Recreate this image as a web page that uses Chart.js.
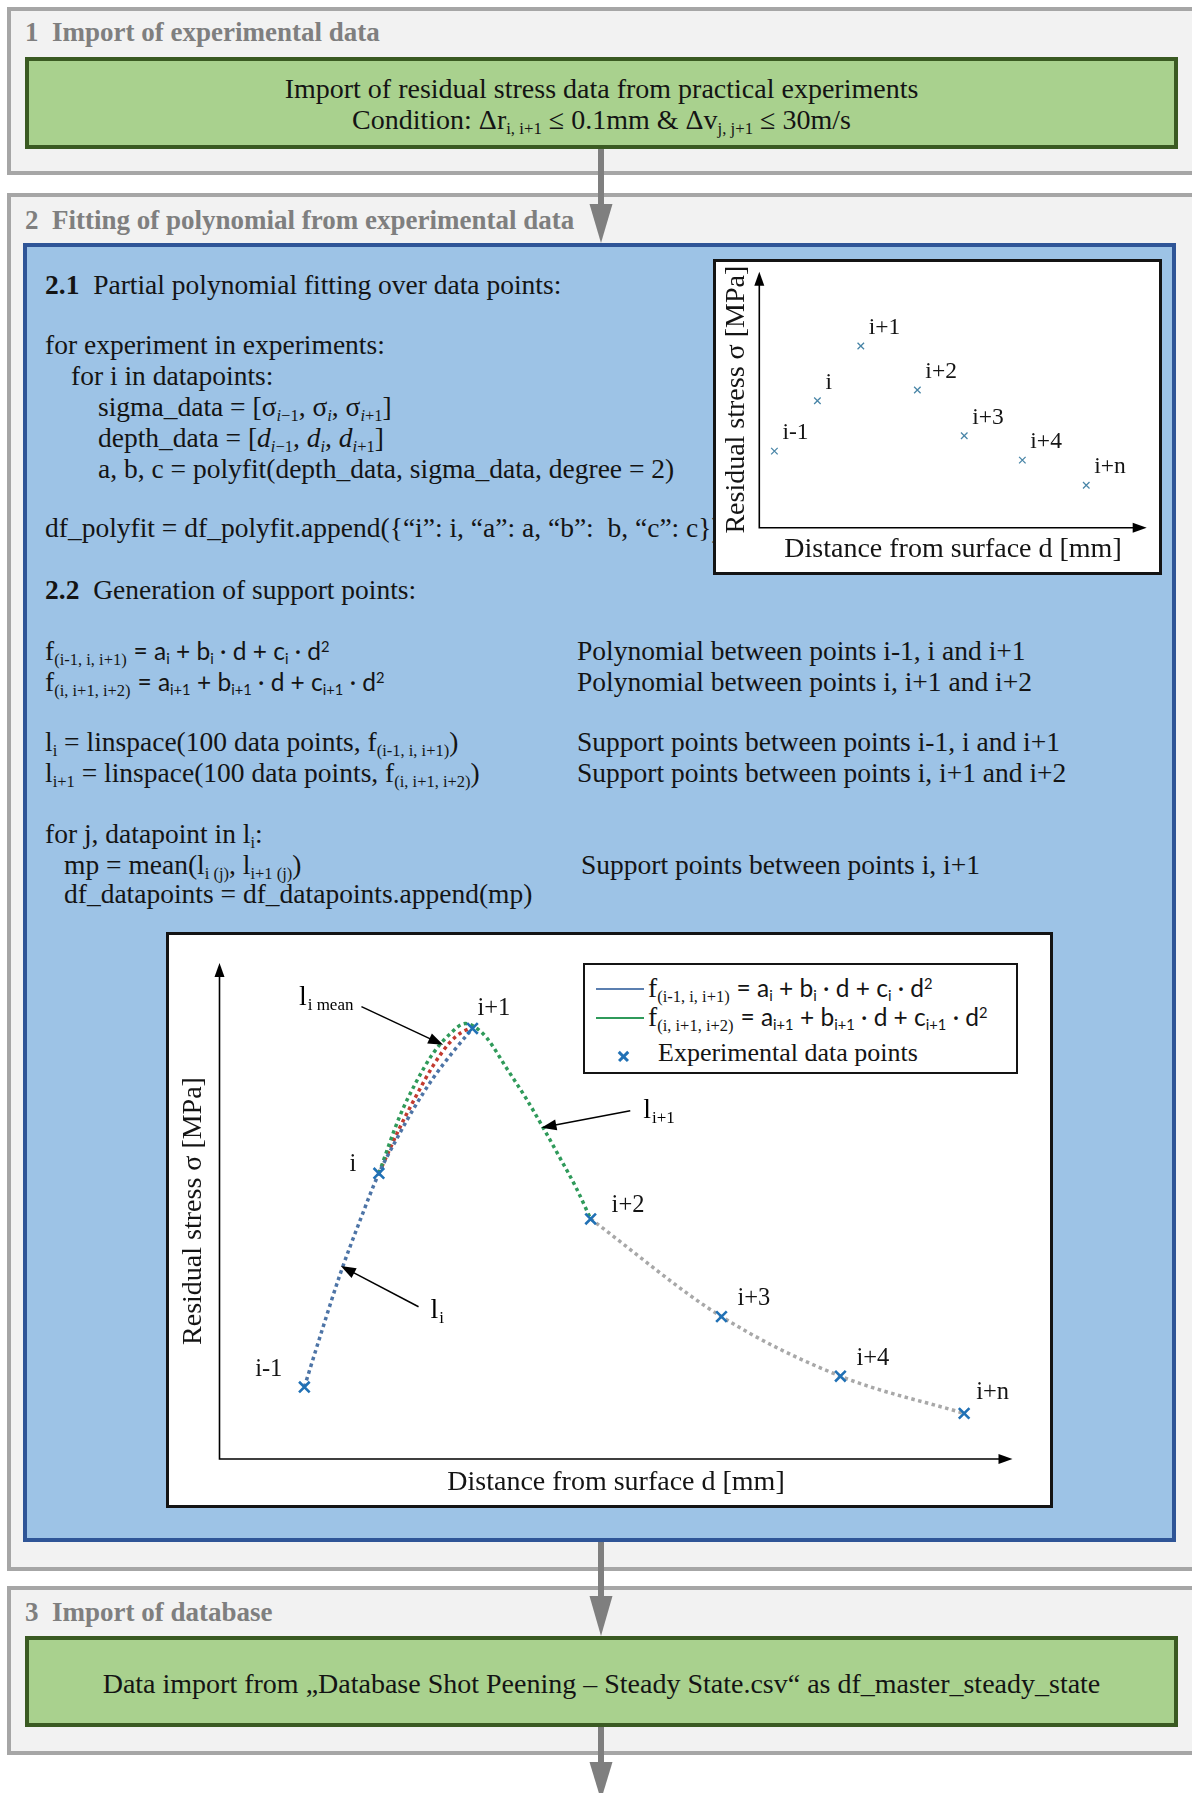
<!DOCTYPE html>
<html lang="en">
<head>
<meta charset="utf-8">
<title>Fitting of polynomial from experimental data</title>
<script src="https://cdn.jsdelivr.net/npm/chart.js@4.4.1/dist/chart.umd.min.js"></script>
<style>
  html, body { margin: 0; padding: 0; background: #fff; }
  body { position: relative; width: 1192px; height: 1793px; overflow: hidden;
         font-family: "Liberation Serif", "Times New Roman", serif; color: #141414; }
  .sec   { position: absolute; left: 7px; width: 1240px; box-sizing: border-box;
           background: #f2f2f2; border: 4px solid #a6a6a6; }
  .head  { position: absolute; left: 25px; font-size: 27px; line-height: 30px;
           font-weight: bold; color: #7f7f7f; white-space: nowrap; }
  .green { position: absolute; left: 25px; width: 1153px; box-sizing: border-box;
           background: #a9d18e; border: 4px solid #3a5a22; }
  .blue  { position: absolute; left: 23px; top: 243px; width: 1153px; height: 1299px;
           box-sizing: border-box; background: #9dc3e6; border: 4px solid #2f5597; }
  .t     { position: absolute; white-space: nowrap; font-size: 27.5px; line-height: 31px; }
  .mid   { left: 25px; width: 1153px; text-align: center; font-size: 28px; }
  sub    { font-size: 60%; line-height: 0; vertical-align: -0.3em; }
  sup    { font-size: 60%; line-height: 0; vertical-align: 0.55em; }
  .sans  { font-family: Lato, "Open Sans", sans-serif; font-size: 24.5px; }
  .frame { position: absolute; box-sizing: border-box; background: #fff; border: 3px solid #141414; }
  .sw    { position: absolute; width: 48px; height: 2.5px; }
  .xm    { position: absolute; width: 13px; height: 2.5px; background: #2171b5; }
  canvas { position: absolute; }
  #arrows { position: absolute; left: 0; top: 0; }
</style>
</head>
<body>

<!-- 1 -->
<div class="sec" style="top:7px;height:168px"></div>
<div class="head" style="top:17px">1&nbsp; Import of experimental data</div>
<div class="green" style="top:57px;height:92px"></div>
<div class="t mid" style="top:72.5px">Import of residual stress data from practical experiments</div>
<div class="t mid" style="top:103.5px">Condition: Δr<sub>i, i+1</sub> ≤ 0.1mm &amp; Δv<sub>j, j+1</sub> ≤ 30m/s</div>

<!-- 2 -->
<div class="sec" style="top:193px;height:1378px"></div>
<div class="head" style="top:205px">2&nbsp; Fitting of polynomial from experimental data</div>
<div class="blue"></div>

<div class="t" style="left:45px;top:268.5px"><b>2.1</b>&nbsp; Partial polynomial fitting over data points:</div>
<div class="t" style="left:45px;top:328.5px">for experiment in experiments:</div>
<div class="t" style="left:71px;top:359.5px">for i in datapoints:</div>
<div class="t" style="left:98px;top:390.5px">sigma_data = [σ<sub><i>i</i>−1</sub>, σ<sub><i>i</i></sub>, σ<sub><i>i</i>+1</sub>]</div>
<div class="t" style="left:98px;top:421.5px">depth_data = [<i>d</i><sub><i>i</i>−1</sub>, <i>d</i><sub><i>i</i></sub>, <i>d</i><sub><i>i</i>+1</sub>]</div>
<div class="t" style="left:98px;top:452.5px">a, b, c = polyfit(depth_data, sigma_data, degree = 2)</div>
<div class="t" style="left:45px;top:511.5px">df_polyfit = df_polyfit.append({“i”: i, “a”: a, “b”:&nbsp; b, “c”: c})</div>

<div class="t" style="left:45px;top:573.5px"><b>2.2</b>&nbsp; Generation of support points:</div>
<div class="t" style="left:45px;top:634.5px">f<sub>(i-1, i, i+1)</sub> <span class="sans">= a<sub>i</sub> + b<sub>i</sub> · d + c<sub>i</sub> · d<sup>2</sup></span></div>
<div class="t" style="left:45px;top:665.5px">f<sub>(i, i+1, i+2)</sub> <span class="sans">= a<sub>i+1</sub> + b<sub>i+1</sub> · d + c<sub>i+1</sub> · d<sup>2</sup></span></div>
<div class="t" style="left:577px;top:634.5px">Polynomial between points i-1, i and i+1</div>
<div class="t" style="left:577px;top:665.5px">Polynomial between points i, i+1 and i+2</div>
<div class="t" style="left:45px;top:725.5px">l<sub>i</sub> = linspace(100 data points, f<sub>(i-1, i, i+1)</sub>)</div>
<div class="t" style="left:45px;top:756.5px">l<sub>i+1</sub> = linspace(100 data points, f<sub>(i, i+1, i+2)</sub>)</div>
<div class="t" style="left:577px;top:725.5px">Support points between points i-1, i and i+1</div>
<div class="t" style="left:577px;top:756.5px">Support points between points i, i+1 and i+2</div>
<div class="t" style="left:45px;top:817.5px">for j, datapoint in l<sub>i</sub>:</div>
<div class="t" style="left:64px;top:848.5px">mp = mean(l<sub>i (j)</sub>, l<sub>i+1 (j)</sub>)</div>
<div class="t" style="left:64px;top:877.5px">df_datapoints = df_datapoints.append(mp)</div>
<div class="t" style="left:581px;top:848.5px">Support points between points i, i+1</div>

<div class="frame" style="left:713px;top:259px;width:449px;height:316px"></div>
<canvas id="rawChart" width="443" height="310" style="left:716px;top:262px"></canvas>

<div class="frame" style="left:166px;top:932px;width:887px;height:576px"></div>
<canvas id="fitChart" width="881" height="570" style="left:169px;top:935px"></canvas>

<div class="frame" style="left:583px;top:963px;width:435px;height:111px;border-width:2px">
  <span class="sw" style="left:11px;top:22.5px;background:#5b7fb0"></span>
  <span class="sw" style="left:11px;top:51.8px;background:#2f9a5a"></span>
  <span class="xm" style="left:31.5px;top:89.5px;transform:rotate(45deg)"></span>
  <span class="xm" style="left:31.5px;top:89.5px;transform:rotate(-45deg)"></span>
  <div class="t" style="left:63px;top:6.5px">f<sub>(i-1, i, i+1)</sub> <span class="sans">= a<sub>i</sub> + b<sub>i</sub> · d + c<sub>i</sub> · d<sup>2</sup></span></div>
  <div class="t" style="left:63px;top:36px">f<sub>(i, i+1, i+2)</sub> <span class="sans">= a<sub>i+1</sub> + b<sub>i+1</sub> · d + c<sub>i+1</sub> · d<sup>2</sup></span></div>
  <div class="t" style="left:73px;top:71.7px;font-size:26px">Experimental data points</div>
</div>

<!-- 3 -->
<div class="sec" style="top:1586px;height:169px"></div>
<div class="head" style="top:1597px">3&nbsp; Import of database</div>
<div class="green" style="top:1636px;height:91px"></div>
<div class="t mid" style="top:1667.5px">Data import from „Database Shot Peening – Steady State.csv“ as df_master_steady_state</div>

<svg id="arrows" width="1192" height="1793">
  <g fill="#7f7f7f">
    <rect x="598" y="149" width="6" height="57"/>
    <polygon points="589.5,204 612.5,204 601,243"/>
    <rect x="598" y="1542" width="6" height="56"/>
    <polygon points="589.5,1596 612.5,1596 601,1636"/>
    <rect x="598" y="1727" width="6" height="37"/>
    <polygon points="589.5,1762 612.5,1762 601,1800"/>
  </g>
</svg>

<script>
// ---- data (arbitrary units, both axes run 0..10 up to the arrow tips) ----
const pointLabels = ['i-1', 'i', 'i+1', 'i+2', 'i+3', 'i+4', 'i+n'];

// 2.1 raw experimental points
const rawDepth  = [0.39, 1.50, 2.62, 4.08, 5.29, 6.79, 8.44];
const rawStress = [2.99, 4.96, 7.10, 5.38, 3.59, 2.64, 1.66];

// 2.2 experimental points
const expDepth  = [1.07, 2.01, 3.19, 4.68, 6.33, 7.83, 9.39];
const expStress = [1.45, 5.76, 8.68, 4.84, 2.87, 1.67, 0.92];

// f(i-1, i, i+1), blue dotted
const fiDepth  = [1.07, 1.30, 1.52, 1.77, 2.01, 2.23, 2.44, 2.69, 2.95, 3.19];
const fiStress = [1.45, 2.63, 3.72, 4.80, 5.76, 6.44, 7.04, 7.67, 8.22, 8.68];

// f(i, i+1, i+2), green dotted
const fi1Depth  = [2.01, 2.27, 2.48, 2.69, 2.90, 3.10, 3.22, 3.37, 3.62, 3.87, 4.06, 4.29, 4.50, 4.68];
const fi1Stress = [5.76, 6.90, 7.60, 8.17, 8.56, 8.78, 8.71, 8.49, 7.88, 7.26, 6.74, 6.08, 5.46, 4.84];

// l_i mean, red dotted
const meanDepth  = [2.01, 2.27, 2.48, 2.69, 2.90, 3.05, 3.19];
const meanStress = [5.76, 6.67, 7.32, 7.92, 8.39, 8.60, 8.70];

// rest of the profile, grey dotted
const tailDepth  = [4.68, 6.33, 7.83, 9.39];
const tailStress = [4.84, 2.87, 1.67, 0.92];

const SERIF = '"Liberation Serif", "Times New Roman", serif';
const xy = (xs, ys) => xs.map((x, k) => ({ x, y: ys[k] }));

function arrowHead(ctx, x, y, dx, dy, len, half) {
  ctx.beginPath();
  ctx.moveTo(x, y);
  ctx.lineTo(x - dx * len - dy * half, y - dy * len + dx * half);
  ctx.lineTo(x - dx * len + dy * half, y - dy * len - dx * half);
  ctx.closePath();
  ctx.fill();
}

// axes with arrow tips + titles
const sketchAxes = {
  id: 'sketchAxes',
  beforeDatasetsDraw(chart, args, o) {
    const { ctx, chartArea: a } = chart;
    ctx.save();
    ctx.strokeStyle = '#000'; ctx.fillStyle = '#000'; ctx.lineWidth = 1.6;
    ctx.beginPath();
    ctx.moveTo(a.left, a.top + 4); ctx.lineTo(a.left, a.bottom); ctx.lineTo(a.right - 4, a.bottom);
    ctx.stroke();
    arrowHead(ctx, a.left, a.top, 0, -1, 14, 5);
    arrowHead(ctx, a.right, a.bottom, 1, 0, 14, 5);
    ctx.fillStyle = '#141414';
    ctx.font = '28px ' + SERIF;
    ctx.textAlign = 'center'; ctx.textBaseline = 'middle';
    ctx.fillText(o.xTitle, (a.left + a.right) / 2, a.bottom + o.xGap);
    ctx.translate(a.left - o.yGap, (a.top + a.bottom) / 2);
    ctx.rotate(-Math.PI / 2);
    ctx.fillText(o.yTitle, 0, 0);
    ctx.restore();
  }
};

// i-1, i, i+1 ... next to the crosses
const pointTags = {
  id: 'pointTags',
  afterDatasetsDraw(chart, args, o) {
    const ctx = chart.ctx;
    const meta = chart.getDatasetMeta(0);
    ctx.save();
    ctx.fillStyle = '#141414';
    ctx.font = o.size + 'px ' + SERIF;
    ctx.textBaseline = 'middle';
    meta.data.forEach((pt, k) => {
      const off = (o.offsets && o.offsets[k]) || o.offset;
      ctx.textAlign = off[2] || 'left';
      ctx.fillText(pointLabels[k], pt.x + off[0], pt.y + off[1]);
    });
    ctx.restore();
  }
};

// l_i, l_i+1, l_i mean arrows
const callouts = {
  id: 'callouts',
  afterDatasetsDraw(chart, args, o) {
    const { ctx, scales: { x, y } } = chart;
    ctx.save();
    ctx.strokeStyle = '#000'; ctx.fillStyle = '#000'; ctx.lineWidth = 1.5;
    o.items.forEach(c => {
      const x0 = x.getPixelForValue(c.from[0]), y0 = y.getPixelForValue(c.from[1]);
      const x1 = x.getPixelForValue(c.to[0]),   y1 = y.getPixelForValue(c.to[1]);
      const len = Math.hypot(x1 - x0, y1 - y0), dx = (x1 - x0) / len, dy = (y1 - y0) / len;
      ctx.beginPath(); ctx.moveTo(x0, y0); ctx.lineTo(x1 - dx * 10, y1 - dy * 10); ctx.stroke();
      arrowHead(ctx, x1, y1, dx, dy, 15, 5.5);
      ctx.font = '28px ' + SERIF;
      const w1 = ctx.measureText('l').width;
      ctx.font = '17px ' + SERIF;
      const w2 = ctx.measureText(c.sub).width;
      const lx = c.align === 'right' ? x0 + c.dx - w1 - w2 - 1 : x0 + c.dx;
      const by = y0 + c.dy;
      ctx.textAlign = 'left'; ctx.textBaseline = 'alphabetic';
      ctx.font = '28px ' + SERIF; ctx.fillText('l', lx, by);
      ctx.font = '17px ' + SERIF; ctx.fillText(c.sub, lx + w1 + 1, by + 5);
    });
    ctx.restore();
  }
};

const baseOptions = (padding) => ({
  responsive: false, animation: false, devicePixelRatio: 1,
  layout: { padding },
  scales: {
    x: { type: 'linear', min: 0, max: 10, display: false },
    y: { type: 'linear', min: 0, max: 10, display: false }
  },
  plugins: { legend: { display: false }, tooltip: { enabled: false } }
});

// ---- 2.1 inset ----
const rawOpts = baseOptions({ left: 43.3, right: 12.3, top: 9.7, bottom: 44.3 });
rawOpts.plugins.sketchAxes = { xTitle: 'Distance from surface d [mm]', yTitle: 'Residual stress σ [MPa]', xGap: 22, yGap: 22.6 };
rawOpts.plugins.pointTags = { size: 23.5, offset: [8, -18] };
new Chart(document.getElementById('rawChart'), {
  type: 'scatter',
  data: { datasets: [{
    data: xy(rawDepth, rawStress),
    pointStyle: 'crossRot', pointRadius: 4.6, pointBorderWidth: 1.3,
    borderColor: '#4a86a8', backgroundColor: '#4a86a8'
  }] },
  options: rawOpts,
  plugins: [sketchAxes, pointTags]
});

// ---- 2.2 fit ----
const dotted = (data, color) => ({
  data, showLine: true, pointRadius: 0, borderColor: color, borderWidth: 3.5,
  borderDash: [3.5, 3.5], cubicInterpolationMode: 'monotone', order: 1
});
const fitOpts = baseOptions({ left: 50.5, right: 37.5, top: 28, bottom: 46 });
fitOpts.plugins.sketchAxes = { xTitle: 'Distance from surface d [mm]', yTitle: 'Residual stress σ [MPa]', xGap: 24, yGap: 26 };
fitOpts.plugins.pointTags = {
  size: 24.5, offset: [16, -18],
  offsets: [[-22, -18, 'right'], [-26, -9, 'center'], [5, -20], [21, -13], [16, -18], [16, -18], [12, -21]]
};
fitOpts.plugins.callouts = { items: [
  { from: [1.79, 9.12], to: [2.82, 8.35], sub: 'i mean', dx: -8, dy: -2, align: 'right' },
  { from: [5.18, 7.02], to: [4.06, 6.68], sub: 'i+1', dx: 13, dy: 7 },
  { from: [2.51, 3.07], to: [1.53, 3.89], sub: 'i', dx: 12, dy: 11 }
] };
new Chart(document.getElementById('fitChart'), {
  type: 'scatter',
  data: { datasets: [
    { data: xy(expDepth, expStress), pointStyle: 'crossRot', pointRadius: 7.5, pointBorderWidth: 2.6,
      borderColor: '#2171b5', backgroundColor: '#2171b5', order: 0 },
    dotted(xy(fiDepth, fiStress), '#4d74a6'),
    dotted(xy(fi1Depth, fi1Stress), '#2f9a5a'),
    dotted(xy(meanDepth, meanStress), '#c23b30'),
    dotted(xy(tailDepth, tailStress), '#a8a8a8')
  ] },
  options: fitOpts,
  plugins: [sketchAxes, pointTags, callouts]
});
</script>
</body>
</html>
